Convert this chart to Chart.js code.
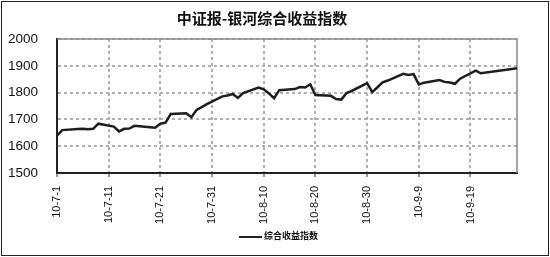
<!DOCTYPE html>
<html>
<head>
<meta charset="utf-8">
<script src="https://cdn.jsdelivr.net/npm/chart.js@4/dist/chart.umd.min.js"></script>
<style>
body { margin: 0; background: #fff; }
#wrap { position: relative; width: 550px; height: 257px; }
#chart { position: absolute; left: 0; top: 0; }
#title { position: absolute; left: 0; top: 8px; width: 524px; text-align: center;
  font: bold 15px "Noto Sans CJK SC", sans-serif; line-height: 20px; color: #111; }
#legend { position: absolute; left: 239px; top: 229px; height: 14px; line-height: 14px;
  font: bold 9px "Noto Sans CJK SC", sans-serif; color: #111; white-space: nowrap; }
#legend .swatch { display: inline-block; width: 23px; height: 2px; background: #222;
  vertical-align: middle; margin-right: 2px; }
#frame { position: absolute; left: 1px; top: 1px; width: 546px; height: 253px;
  border: 1px solid #222; pointer-events: none; }
</style>
</head>
<body>
<div id="wrap">
  <canvas id="chart" width="550" height="257"></canvas>
  <div id="title">中证报-银河综合收益指数</div>
  <div id="legend"><span class="swatch"></span>综合收益指数</div>
  <div id="frame"></div>
</div>
<script>
// trading days, Jul-Sep 2010
const tradeDates = [
  '2010-07-01','2010-07-02','2010-07-05','2010-07-06','2010-07-07','2010-07-08','2010-07-09',
  '2010-07-12','2010-07-13','2010-07-14','2010-07-15','2010-07-16',
  '2010-07-19','2010-07-20','2010-07-21','2010-07-22','2010-07-23',
  '2010-07-26','2010-07-27','2010-07-28','2010-07-29','2010-07-30',
  '2010-08-02','2010-08-03','2010-08-04','2010-08-05','2010-08-06',
  '2010-08-09','2010-08-10','2010-08-11','2010-08-12','2010-08-13',
  '2010-08-16','2010-08-17','2010-08-18','2010-08-19','2010-08-20',
  '2010-08-23','2010-08-24','2010-08-25','2010-08-26','2010-08-27',
  '2010-08-30','2010-08-31','2010-09-01','2010-09-02','2010-09-03',
  '2010-09-06','2010-09-07','2010-09-08','2010-09-09','2010-09-10',
  '2010-09-13','2010-09-14','2010-09-15','2010-09-16','2010-09-17',
  '2010-09-20','2010-09-21','2010-09-27','2010-09-28'
];
const indexValues = [
  1639, 1660, 1664, 1665, 1663, 1665, 1684,
  1673, 1655, 1665, 1666, 1676,
  1671, 1669, 1684, 1688, 1720,
  1723, 1708, 1735, 1746, 1757,
  1786, 1789, 1795, 1780, 1798,
  1819, 1812, 1797, 1779, 1809,
  1813, 1821, 1819, 1831, 1791,
  1788, 1776, 1774, 1798, 1806,
  1835, 1802, 1820, 1838, 1845,
  1870, 1866, 1869, 1830, 1837,
  1847, 1840, 1838, 1833, 1852,
  1882, 1872, 1888, 1891
];
const xTickLabels = ['10-7-1','10-7-11','10-7-21','10-7-31','10-8-10','10-8-20','10-8-30','10-9-9','10-9-19'];
const startDate = '2010-07-01';
const endDate = '2010-09-28';

const dayMs = 24 * 3600 * 1000;
const dayOffset = d => Math.round((Date.parse(d) - Date.parse(startDate)) / dayMs);

const points = tradeDates.map((d, i) => ({ x: dayOffset(d), y: indexValues[i] }));

// gray top/right edge of the plot area
const plotFrame = {
  id: 'plotFrame',
  beforeDatasetsDraw(chart) {
    const { ctx, chartArea: a } = chart;
    ctx.save();
    ctx.strokeStyle = '#8a8a8a';
    ctx.lineWidth = 1.5;
    ctx.beginPath();
    ctx.moveTo(a.left, a.top);
    ctx.lineTo(a.right, a.top);
    ctx.lineTo(a.right, a.bottom);
    ctx.stroke();
    ctx.restore();
  }
};

new Chart(document.getElementById('chart'), {
  type: 'line',
  data: {
    datasets: [{
      label: '综合收益指数',
      data: points,
      borderColor: '#1e1e1e',
      borderWidth: 2.5,
      pointRadius: 0,
      tension: 0,
      fill: false
    }]
  },
  options: {
    responsive: false,
    animation: false,
    devicePixelRatio: 1,
    layout: { padding: { top: 39, right: 33, bottom: 0, left: 0 } },
    plugins: { legend: { display: false }, title: { display: false }, tooltip: { enabled: false } },
    scales: {
      x: {
        type: 'linear',
        min: 0,
        max: dayOffset(endDate),
        afterFit: s => { s.height = 84; },
        grid: {
          color: ctx => ctx.tick && ctx.tick.value === 0 ? 'rgba(0,0,0,0)' : '#b0b0b0',
          lineWidth: 2,
          tickColor: '#333',
          tickWidth: 1,
          tickLength: 4,
          tickBorderDash: []
        },
        border: { color: '#222', width: 2, dash: [3, 3] },
        ticks: {
          stepSize: 10,
          includeBounds: false,
          autoSkip: false,
          minRotation: 90,
          maxRotation: 90,
          padding: 9,
          color: '#111',
          font: { family: 'Liberation Sans', size: 11 },
          callback: v => xTickLabels[v / 10] || ''
        }
      },
      y: {
        min: 1500,
        max: 2000,
        afterFit: s => { s.width = 57; },
        grid: { color: '#b0b0b0', lineWidth: 2, drawTicks: false },
        border: { color: '#222', width: 2, dash: [3, 3] },
        ticks: {
          stepSize: 100,
          padding: 19,
          color: '#111',
          font: { family: 'Liberation Sans', size: 13.5 },
          callback: v => String(v)
        }
      }
    }
  },
  plugins: [plotFrame]
});
</script>
</body>
</html>
